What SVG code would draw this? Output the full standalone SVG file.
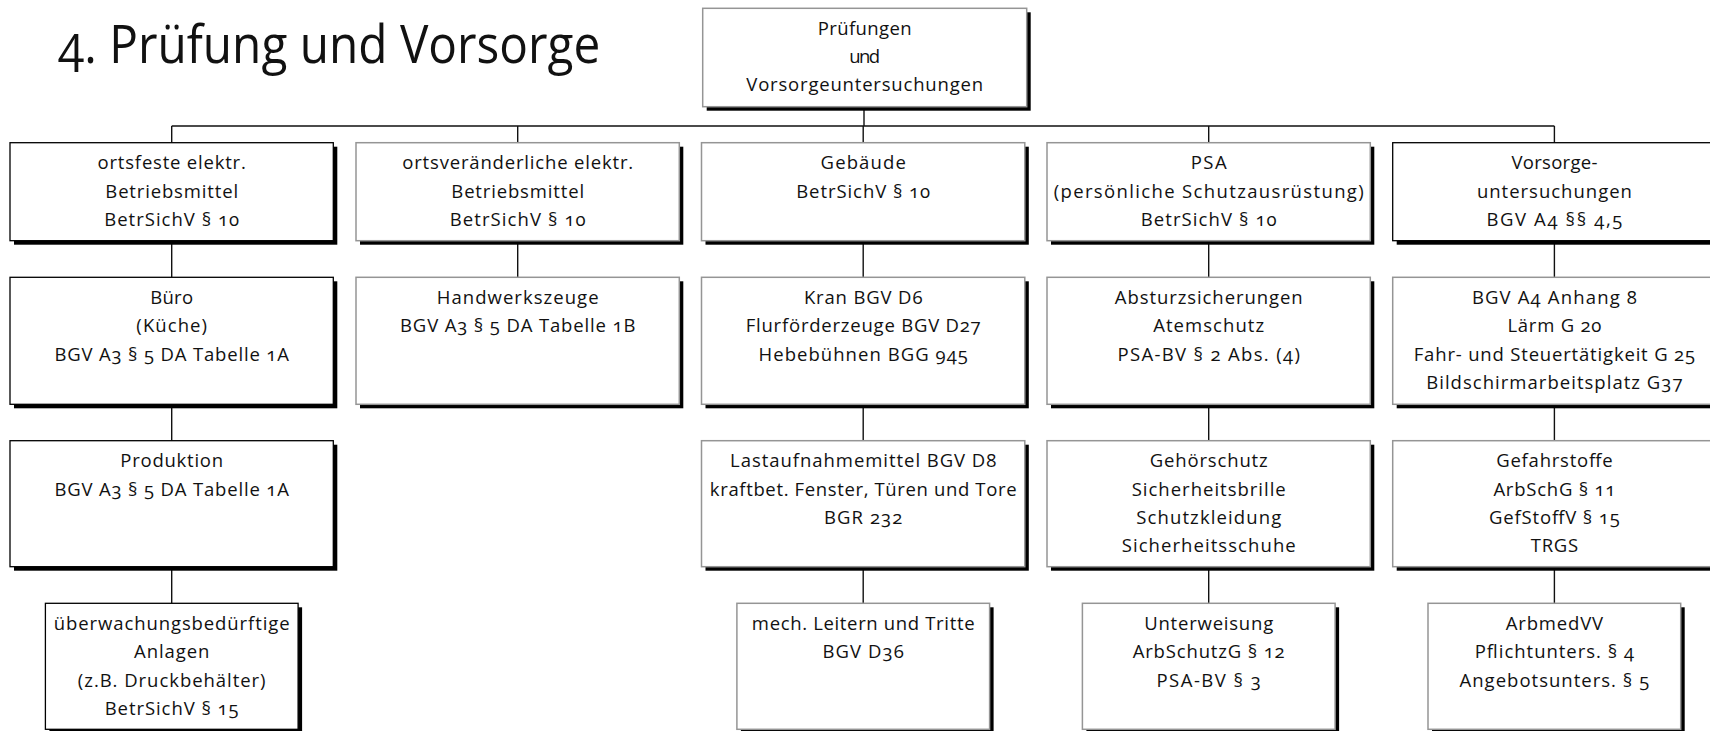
<svg xmlns="http://www.w3.org/2000/svg" width="1710" height="731" viewBox="0 0 1710 731">
<style>
.sh{fill:#000}
.bk{fill:#fff;stroke:#000;stroke-width:1.3}
.gy{fill:#fff;stroke:#959595;stroke-width:1.5}
text{font-family:"Open Sans","Noto Sans","Liberation Sans",sans-serif;fill:#111;font-feature-settings:"onum" 1;font-variant-numeric:oldstyle-nums}
.t{font-size:18.5px;text-anchor:middle}
.title{font-size:53px}
.con{fill:none;stroke:#111;stroke-width:1.4}
</style>
<rect width="1710" height="731" fill="#fff"/>
<text class="title" x="58.3" y="62.7" textLength="542" lengthAdjust="spacingAndGlyphs">4. Prüfung und Vorsorge</text>

<g id="connectors" class="con">
<path d="M864 106.7V126M171.7 126H1554.4"/>
<path d="M171.7 126V142.7M517.7 126V142.7M863.2 126V142.7M1208.7 126V142.7M1554.4 126V142.7"/>
<path d="M171.7 240.7V277.3M171.7 404.3V440.7M171.7 566.7V603.3"/>
<path d="M517.7 240.7V277.3"/>
<path d="M863.2 240.7V277.3M863.2 404.3V440.7M863.2 566.7V603.3"/>
<path d="M1208.7 240.7V277.3M1208.7 404.3V440.7M1208.7 566.7V603.3"/>
<path d="M1554.4 240.7V277.3M1554.4 404.3V440.7M1554.4 566.7V603.3"/>
</g>

<g id="n-top">
<rect class="sh" x="706.7" y="12.3" width="324" height="98.4"/>
<rect class="gy" x="702.7" y="8.3" width="324" height="98.4"/>
<text class="t" x="864.7" y="34.6" textLength="94">Prüfungen</text>
<text class="t" x="864.7" y="62.8" textLength="31">und</text>
<text class="t" x="864.7" y="91" textLength="236.7">Vorsorgeuntersuchungen</text>
</g>

<g id="n-c1r1">
<rect class="sh" x="14" y="146.7" width="323.3" height="98"/>
<rect class="bk" x="10" y="142.7" width="323.3" height="98"/>
<text class="t" x="171.7" y="169.4" textLength="148.3">ortsfeste elektr.</text>
<text class="t" x="171.7" y="197.7" textLength="132.7">Betriebsmittel</text>
<text class="t" x="171.7" y="226" textLength="135">BetrSichV § 10</text>
</g>

<g id="n-c2r1">
<rect class="sh" x="360" y="146.7" width="323.3" height="98"/>
<rect class="gy" x="356" y="142.7" width="323.3" height="98"/>
<text class="t" x="517.7" y="169.4" textLength="231">ortsveränderliche elektr.</text>
<text class="t" x="517.7" y="197.7" textLength="132.7">Betriebsmittel</text>
<text class="t" x="517.7" y="226" textLength="136">BetrSichV § 10</text>
</g>

<g id="n-c3r1">
<rect class="sh" x="705.5" y="146.7" width="323.3" height="98"/>
<rect class="gy" x="701.5" y="142.7" width="323.3" height="98"/>
<text class="t" x="863.2" y="169.4" textLength="85.3">Gebäude</text>
<text class="t" x="863.2" y="197.7" textLength="134">BetrSichV § 10</text>
</g>

<g id="n-c4r1">
<rect class="sh" x="1051" y="146.7" width="323.3" height="98"/>
<rect class="gy" x="1047" y="142.7" width="323.3" height="98"/>
<text class="t" x="1208.7" y="169.4" textLength="36">PSA</text>
<text class="t" x="1208.7" y="197.7" textLength="310">(persönliche Schutzausrüstung)</text>
<text class="t" x="1208.7" y="226" textLength="136">BetrSichV § 10</text>
</g>

<g id="n-c5r1">
<rect class="sh" x="1396.7" y="146.7" width="323.3" height="98"/>
<rect class="bk" x="1392.7" y="142.7" width="323.3" height="98"/>
<text class="t" x="1554.4" y="169.4" textLength="86">Vorsorge-</text>
<text class="t" x="1554.4" y="197.7" textLength="155">untersuchungen</text>
<text class="t" x="1554.4" y="226" textLength="136">BGV A4 §§ 4,5</text>
</g>

<g id="n-c1r2">
<rect class="sh" x="14" y="281.3" width="323.3" height="127"/>
<rect class="bk" x="10" y="277.3" width="323.3" height="127"/>
<text class="t" x="171.7" y="304" textLength="42.7">Büro</text>
<text class="t" x="171.7" y="332.3" textLength="70.7">(Küche)</text>
<text class="t" x="171.7" y="360.6" textLength="234.3">BGV A3 § 5 DA Tabelle 1A</text>
</g>

<g id="n-c2r2">
<rect class="sh" x="360" y="281.3" width="323.3" height="127"/>
<rect class="gy" x="356" y="277.3" width="323.3" height="127"/>
<text class="t" x="517.7" y="304" textLength="161.7">Handwerkszeuge</text>
<text class="t" x="517.7" y="332.3" textLength="235.3">BGV A3 § 5 DA Tabelle 1B</text>
</g>

<g id="n-c3r2">
<rect class="sh" x="705.5" y="281.3" width="323.3" height="127"/>
<rect class="gy" x="701.5" y="277.3" width="323.3" height="127"/>
<text class="t" x="863.2" y="304" textLength="118.6">Kran BGV D6</text>
<text class="t" x="863.2" y="332.3" textLength="235">Flurförderzeuge BGV D27</text>
<text class="t" x="863.2" y="360.6" textLength="209.3">Hebebühnen BGG 945</text>
</g>

<g id="n-c4r2">
<rect class="sh" x="1051" y="281.3" width="323.3" height="127"/>
<rect class="gy" x="1047" y="277.3" width="323.3" height="127"/>
<text class="t" x="1208.7" y="304" textLength="187.7">Absturzsicherungen</text>
<text class="t" x="1208.7" y="332.3" textLength="111">Atemschutz</text>
<text class="t" x="1208.7" y="360.6" textLength="182.3">PSA-BV § 2 Abs. (4)</text>
</g>

<g id="n-c5r2">
<rect class="sh" x="1396.7" y="281.3" width="323.3" height="127"/>
<rect class="gy" x="1392.7" y="277.3" width="323.3" height="127"/>
<text class="t" x="1554.4" y="304" textLength="165">BGV A4 Anhang 8</text>
<text class="t" x="1554.4" y="332.3" textLength="94">Lärm G 20</text>
<text class="t" x="1554.4" y="360.6" textLength="281.3">Fahr- und Steuertätigkeit G 25</text>
<text class="t" x="1554.4" y="388.9" textLength="256.3">Bildschirmarbeitsplatz G37</text>
</g>

<g id="n-c1r3">
<rect class="sh" x="14" y="444.7" width="323.3" height="126"/>
<rect class="bk" x="10" y="440.7" width="323.3" height="126"/>
<text class="t" x="171.7" y="467.4" textLength="102.7">Produktion</text>
<text class="t" x="171.7" y="495.7" textLength="234.3">BGV A3 § 5 DA Tabelle 1A</text>
</g>

<g id="n-c3r3">
<rect class="sh" x="705.5" y="444.7" width="323.3" height="126"/>
<rect class="gy" x="701.5" y="440.7" width="323.3" height="126"/>
<text class="t" x="863.2" y="467.4" textLength="266.3">Lastaufnahmemittel BGV D8</text>
<text class="t" x="863.2" y="495.7" textLength="306.7">kraftbet. Fenster, Türen und Tore</text>
<text class="t" x="863.2" y="524" textLength="78.3">BGR 232</text>
</g>

<g id="n-c4r3">
<rect class="sh" x="1051" y="444.7" width="323.3" height="126"/>
<rect class="gy" x="1047" y="440.7" width="323.3" height="126"/>
<text class="t" x="1208.7" y="467.4" textLength="118">Gehörschutz</text>
<text class="t" x="1208.7" y="495.7" textLength="154">Sicherheitsbrille</text>
<text class="t" x="1208.7" y="524" textLength="145">Schutzkleidung</text>
<text class="t" x="1208.7" y="552.3" textLength="174">Sicherheitsschuhe</text>
</g>

<g id="n-c5r3">
<rect class="sh" x="1396.7" y="444.7" width="323.3" height="126"/>
<rect class="gy" x="1392.7" y="440.7" width="323.3" height="126"/>
<text class="t" x="1554.4" y="467.4" textLength="116.3">Gefahrstoffe</text>
<text class="t" x="1554.4" y="495.7" textLength="122">ArbSchG § 11</text>
<text class="t" x="1554.4" y="524" textLength="131">GefStoffV § 15</text>
<text class="t" x="1554.4" y="552.3" textLength="47.3">TRGS</text>
</g>

<g id="n-c1r4">
<rect class="sh" x="49.4" y="607.3" width="252.7" height="126"/>
<rect class="bk" x="45.4" y="603.3" width="252.7" height="126"/>
<text class="t" x="171.7" y="630" textLength="235.7">überwachungsbedürftige</text>
<text class="t" x="171.7" y="658.3" textLength="75.3">Anlagen</text>
<text class="t" x="171.7" y="686.6" textLength="187.7">(z.B. Druckbehälter)</text>
<text class="t" x="171.7" y="714.9" textLength="134">BetrSichV § 15</text>
</g>

<g id="n-c3r4">
<rect class="sh" x="740.9" y="607.3" width="252.7" height="126"/>
<rect class="gy" x="736.9" y="603.3" width="252.7" height="126"/>
<text class="t" x="863.2" y="630" textLength="222.7">mech. Leitern und Tritte</text>
<text class="t" x="863.2" y="658.3" textLength="81.3">BGV D36</text>
</g>

<g id="n-c4r4">
<rect class="sh" x="1086.4" y="607.3" width="252.7" height="126"/>
<rect class="gy" x="1082.4" y="603.3" width="252.7" height="126"/>
<text class="t" x="1208.7" y="630" textLength="129">Unterweisung</text>
<text class="t" x="1208.7" y="658.3" textLength="152">ArbSchutzG § 12</text>
<text class="t" x="1208.7" y="686.6" textLength="104.5">PSA-BV § 3</text>
</g>

<g id="n-c5r4">
<rect class="sh" x="1432" y="607.3" width="252.7" height="126"/>
<rect class="gy" x="1428" y="603.3" width="252.7" height="126"/>
<text class="t" x="1554.4" y="630" textLength="97.3">ArbmedVV</text>
<text class="t" x="1554.4" y="658.3" textLength="159.3">Pflichtunters. § 4</text>
<text class="t" x="1554.4" y="686.6" textLength="189.7">Angebotsunters. § 5</text>
</g>
</svg>
